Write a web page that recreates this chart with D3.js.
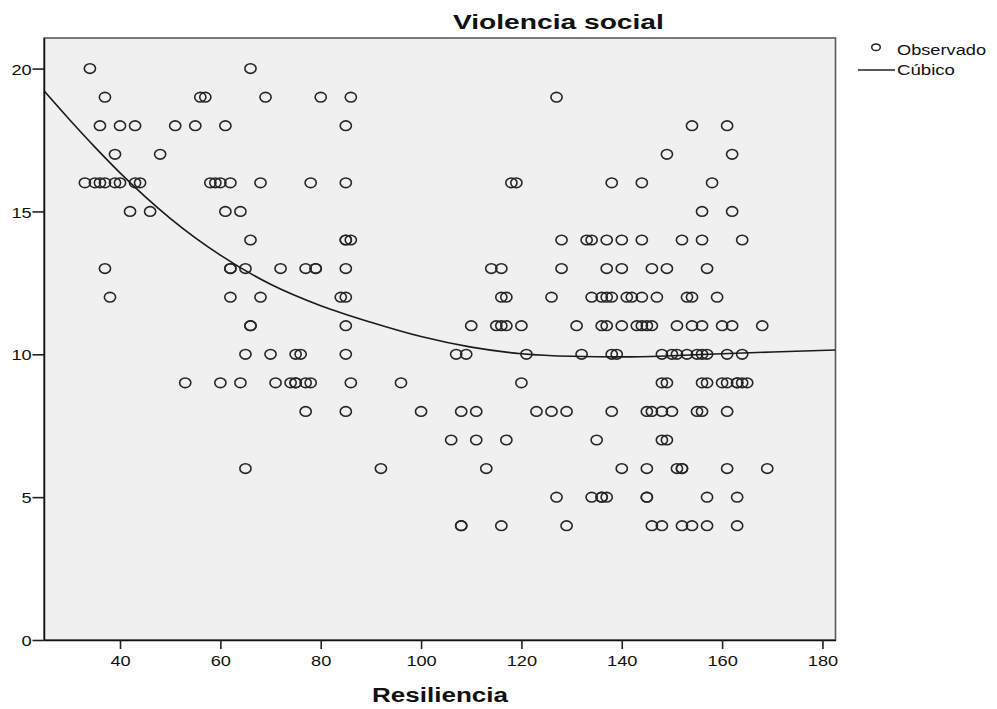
<!DOCTYPE html>
<html>
<head>
<meta charset="utf-8">
<script src="https://cdn.jsdelivr.net/npm/d3@7"></script>
<style>
  html, body { margin: 0; padding: 0; background: #ffffff; }
  svg { display: block; font-family: "Liberation Sans", Arial, sans-serif; }
</style>
</head>
<body>
<svg id="chart" width="997" height="709"></svg>
<script>
// ---- Data ----
const violenciaLevels = [20, 19, 18, 17, 16, 15, 14, 13, 12, 11, 10, 9, 8, 7, 6, 5, 4];
const resilienciaByLevel = [
  [34, 66],
  [37, 56, 57, 69, 80, 86, 127],
  [36, 40, 43, 51, 55, 61, 85, 154, 161],
  [39, 48, 149, 162],
  [33, 35, 36, 37, 39, 40, 43, 44, 58, 59, 60, 62, 68, 78, 85, 118, 119, 138, 144, 158],
  [42, 46, 61, 64, 156, 162],
  [66, 85, 85, 86, 128, 133, 134, 137, 140, 144, 152, 156, 164],
  [37, 62, 62, 65, 72, 77, 79, 79, 85, 114, 116, 128, 137, 140, 146, 149, 157],
  [38, 62, 68, 84, 85, 116, 117, 126, 134, 136, 137, 138, 141, 142, 144, 147, 153, 154, 159],
  [66, 66, 85, 110, 115, 116, 117, 120, 131, 136, 137, 140, 143, 144, 145, 146, 151, 154, 156, 160, 162, 168],
  [65, 70, 75, 76, 85, 107, 109, 121, 132, 138, 139, 148, 150, 151, 153, 155, 156, 157, 161, 164],
  [53, 60, 64, 71, 74, 75, 75, 77, 78, 86, 96, 120, 148, 149, 156, 157, 160, 161, 163, 163, 164, 165],
  [77, 85, 100, 108, 111, 123, 126, 129, 138, 145, 146, 148, 150, 155, 156, 161],
  [106, 111, 117, 135, 148, 149],
  [65, 92, 113, 140, 145, 151, 152, 152, 161, 169],
  [127, 134, 136, 136, 137, 145, 145, 157, 163],
  [108, 108, 116, 129, 146, 148, 152, 154, 157, 163]
];
// Cubic fit line
const curveX = [24.85, 30, 35, 40, 45, 50, 60, 70, 80, 90, 100, 110, 120, 130, 140, 150, 160, 170, 182.6];
const curveY = [19.22, 18.2, 17.25, 16.35, 15.52, 14.76, 13.47, 12.45, 11.7, 11.12, 10.62, 10.25, 10.02, 9.93, 9.91, 9.95, 10.02, 10.08, 10.15];
const xTicks = [40, 60, 80, 100, 120, 140, 160, 180];
const yTicks = [0, 5, 10, 15, 20];
const titleText = "Violencia social";
const xTitleText = "Resiliencia";
const legendLabels = ["Observado", "Cúbico"];

// ---- Layout ----
const plot = { left: 44, right: 835.5, top: 38, bottom: 640 };
const svg = d3.select("#chart");
const x = d3.scaleLinear().domain([24.85, 182.6]).range([plot.left, plot.right]);
const y = d3.scaleLinear().domain([0, 21.07]).range([plot.bottom, plot.top]);
const SX = 1.3; // horizontal stretch of the reference's text

const points = [];
violenciaLevels.forEach((v, i) => resilienciaByLevel[i].forEach(r => points.push({ x: r, y: v })));

// background / frame
svg.append("rect")
  .attr("x", plot.left).attr("y", plot.top)
  .attr("width", plot.right - plot.left).attr("height", plot.bottom - plot.top)
  .attr("fill", "#f0f0f0").attr("stroke", "#5a5a5a").attr("stroke-width", 1.6);

// clip
svg.append("clipPath").attr("id", "clip").append("rect")
  .attr("x", plot.left).attr("y", plot.top)
  .attr("width", plot.right - plot.left).attr("height", plot.bottom - plot.top);

// points
svg.append("g").attr("clip-path", "url(#clip)")
  .selectAll("ellipse").data(points).join("ellipse")
  .attr("cx", d => x(d.x)).attr("cy", d => y(d.y))
  .attr("rx", 5.6).attr("ry", 4.8)
  .attr("fill", "none").attr("stroke", "#262626").attr("stroke-width", 1.6);

// cubic curve
const curveData = curveX.map((cx, i) => ({ x: cx, y: curveY[i] }));
svg.append("path").datum(curveData)
  .attr("clip-path", "url(#clip)")
  .attr("d", d3.line().x(d => x(d.x)).y(d => y(d.y)).curve(d3.curveMonotoneX))
  .attr("fill", "none").attr("stroke", "#1a1a1a").attr("stroke-width", 1.6);

// x axis
const xAxis = svg.append("g").attr("transform", `translate(0,${plot.bottom})`)
  .call(d3.axisBottom(x).tickValues(xTicks).tickSize(9).tickPadding(6.7).tickSizeOuter(0));
xAxis.select(".domain").attr("stroke", "#111").attr("stroke-width", 1.5);
xAxis.selectAll(".tick line").attr("stroke", "#222").attr("stroke-width", 1.6);
xAxis.selectAll(".tick text")
  .attr("font-size", 14).attr("fill", "#111")
  .attr("font-family", "Liberation Sans, Arial, sans-serif")
  .attr("transform", `scale(${SX},1)`);

// y axis
const yAxis = svg.append("g").attr("transform", `translate(${plot.left},0)`)
  .call(d3.axisLeft(y).tickValues(yTicks).tickSize(11.5).tickPadding(1).tickSizeOuter(0));
yAxis.select(".domain").attr("stroke", "#111").attr("stroke-width", 1.5);
yAxis.selectAll(".tick line").attr("stroke", "#222").attr("stroke-width", 1.6);
yAxis.selectAll(".tick text")
  .attr("font-size", 14).attr("fill", "#111")
  .attr("font-family", "Liberation Sans, Arial, sans-serif")
  .attr("x", 0).attr("dy", "0.4em")
  .attr("transform", `translate(-12.3,0) scale(${SX},1)`);

// title
svg.append("text")
  .attr("x", 558.4).attr("y", 29)
  .attr("text-anchor", "middle")
  .attr("font-size", 20).attr("font-weight", "bold").attr("fill", "#111")
  .attr("textLength", 211).attr("lengthAdjust", "spacingAndGlyphs")
  .text(titleText);

// x axis title
svg.append("text")
  .attr("x", 440).attr("y", 702)
  .attr("text-anchor", "middle")
  .attr("font-size", 20).attr("font-weight", "bold").attr("fill", "#111")
  .attr("textLength", 136).attr("lengthAdjust", "spacingAndGlyphs")
  .text(xTitleText);

// legend
const lg = svg.append("g");
lg.append("ellipse").attr("cx", 876).attr("cy", 47.3).attr("rx", 4.3).attr("ry", 3.3)
  .attr("fill", "none").attr("stroke", "#222").attr("stroke-width", 1.5);
lg.append("text").attr("x", 897).attr("y", 55).attr("font-size", 14).attr("fill", "#111")
  .attr("textLength", 89).attr("lengthAdjust", "spacingAndGlyphs").text(legendLabels[0]);
lg.append("line").attr("x1", 858).attr("x2", 895).attr("y1", 70).attr("y2", 70)
  .attr("stroke", "#222").attr("stroke-width", 1.6);
lg.append("text").attr("x", 897).attr("y", 74.5).attr("font-size", 14).attr("fill", "#111")
  .attr("textLength", 58).attr("lengthAdjust", "spacingAndGlyphs").text(legendLabels[1]);
</script>
</body>
</html>
